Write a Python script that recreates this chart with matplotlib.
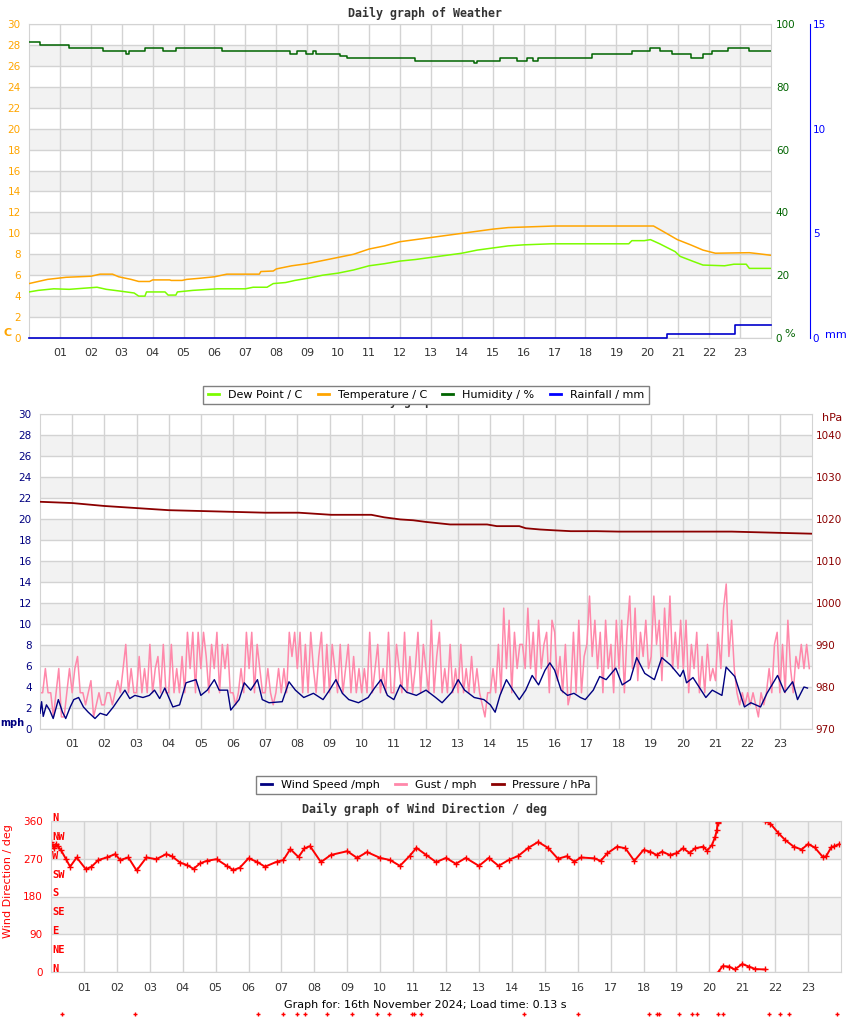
import numpy as np
import matplotlib
matplotlib.use("Agg")
import matplotlib.pyplot as plt
from matplotlib.lines import Line2D
from matplotlib.transforms import ScaledTranslation

# ---- weather panel (hours of day, values) ----
temp_t = [0, 0.3, 0.6, 1.2, 2.0, 2.3, 2.7, 2.9, 3.3, 3.55, 3.9, 4.0, 4.55, 4.6, 4.95, 5.1, 5.5, 6.0, 6.4,
          7.45, 7.5, 7.9, 8.0, 8.5, 9.0, 9.5, 10, 10.5, 11, 11.5, 12, 12.5, 13, 13.5, 14, 14.5, 15, 15.5,
          16, 17, 18, 19, 20.2, 20.5, 20.97, 21.4, 21.8, 22.2, 23.3, 23.6, 24]
temp_c = [5.2, 5.4, 5.6, 5.8, 5.9, 6.1, 6.1, 5.85, 5.6, 5.4, 5.4, 5.55, 5.55, 5.5, 5.5, 5.6, 5.7, 5.85, 6.1,
          6.1, 6.35, 6.4, 6.6, 6.9, 7.1, 7.4, 7.7, 8.0, 8.5, 8.8, 9.2, 9.4, 9.6, 9.8, 10.0, 10.2, 10.4, 10.55,
          10.6, 10.7, 10.7, 10.7, 10.7, 10.2, 9.4, 8.9, 8.4, 8.1, 8.15, 8.05, 7.9]

dew_t = [0, 0.3, 0.8, 1.3, 2.2, 2.5, 2.9, 3.4, 3.55, 3.75, 3.8, 4.4, 4.5, 4.75, 4.8, 5.3, 6.1, 7.0, 7.25,
         7.7, 7.9, 8.3, 8.6, 9, 9.5, 10, 10.5, 11, 11.5, 12, 12.5, 13, 13.5, 14, 14.5, 15, 15.5, 16, 16.9,
         19.4, 19.5, 19.9, 20.1, 20.4, 20.9, 21.06, 21.5, 21.8, 22.5, 22.8, 23.2, 23.3, 24]
dew_c = [4.4, 4.55, 4.7, 4.65, 4.85, 4.65, 4.5, 4.3, 4.0, 4.0, 4.4, 4.4, 4.1, 4.1, 4.4, 4.55, 4.7, 4.7, 4.85,
         4.85, 5.2, 5.3, 5.5, 5.7, 6.0, 6.2, 6.5, 6.9, 7.1, 7.35, 7.5, 7.7, 7.9, 8.1, 8.4, 8.6, 8.8, 8.9, 9.0,
         9.0, 9.3, 9.3, 9.4, 9.0, 8.25, 7.8, 7.3, 6.97, 6.9, 7.05, 7.05, 6.65, 6.65]

hum_t = [0, 0.35, 1.3, 2.4, 3.15, 3.25, 3.75, 4.34, 4.77, 6.23, 8.44, 8.66, 8.96, 9.2, 9.29, 10.06, 10.28,
         12.5, 14.38, 14.49, 15.24, 15.78, 16.1, 16.3, 16.45, 18.2, 19.5, 20.1, 20.4, 20.8, 21.4, 21.8,
         22.1, 22.6, 23.3, 24]
hum_pct = [94.2, 93.3, 92.2, 91.3, 90.4, 91.3, 92.2, 91.3, 92.2, 91.3, 90.4, 91.3, 90.4, 91.3, 90.4, 89.8,
           89.1, 88.2, 87.5, 88.2, 89.1, 88.2, 89.1, 88.2, 89.1, 90.4, 91.3, 92.2, 91.3, 90.4, 89.1, 90.4,
           91.3, 92.2, 91.3, 91.3]

rain_t = [0, 20.65, 22.85, 24]
rain_mm = [0, 0.2, 0.6, 0.6]

# ---- wind panel ----
speed_t = [0.0, 0.05, 0.1, 0.2, 0.3, 0.41, 0.57, 0.7, 0.8, 0.94, 1.05, 1.2, 1.35, 1.5, 1.71, 1.87, 2.07,
           2.28, 2.48, 2.64, 2.79, 2.95, 3.2, 3.4, 3.56, 3.72, 3.88, 4.13, 4.34, 4.54, 4.85, 5.0, 5.2,
           5.42, 5.57, 5.83, 5.93, 6.19, 6.35, 6.55, 6.76, 6.91, 7.12, 7.53, 7.74, 7.94, 8.2, 8.5, 8.8,
           9.0, 9.2, 9.4, 9.6, 9.9, 10.2, 10.4, 10.6, 10.8, 11.0, 11.2, 11.4, 11.7, 12.0, 12.3, 12.5,
           12.8, 13.0, 13.2, 13.5, 13.8, 14.0, 14.15, 14.3, 14.5, 14.7, 14.9, 15.1, 15.3, 15.5, 15.7,
           15.85, 16.0, 16.2, 16.4, 16.6, 16.8, 16.95, 17.2, 17.4, 17.6, 17.9, 18.1, 18.35, 18.55, 18.8,
           19.1, 19.33, 19.6, 19.9, 20.0, 20.1, 20.3, 20.7, 20.9, 21.2, 21.33, 21.6, 21.9, 22.1, 22.4,
           22.6, 22.93, 23.15, 23.4, 23.55, 23.75, 23.86]
speed_mph = [1.5, 2.6, 1.2, 2.3, 1.8, 1.0, 2.8, 1.6, 1.0, 2.1, 2.8, 3.0, 2.1, 1.6, 1.0, 1.5, 1.3,
             2.1, 3.0, 3.7, 2.9, 3.2, 3.0, 3.2, 3.7, 2.9, 3.9, 2.1, 2.3, 4.4, 4.7, 3.2, 3.7,
             4.7, 3.7, 3.7, 1.8, 2.8, 4.4, 3.7, 4.7, 2.8, 2.5, 2.6, 4.5, 3.7, 3.0, 3.4, 2.8,
             3.7, 4.7, 3.4, 2.8, 2.5, 3.0, 3.9, 4.7, 3.2, 2.8, 4.2, 3.5, 3.2, 3.7, 3.0, 2.5,
             3.5, 4.7, 3.7, 3.0, 2.8, 2.3, 1.6, 3.2, 4.7, 3.7, 2.8, 3.7, 5.1, 4.2, 5.6,
             6.3, 5.6, 3.7, 3.2, 3.4, 3.0, 2.8, 3.7, 5.0, 4.7, 5.8, 4.2, 4.7, 6.8, 5.3,
             4.7, 6.8, 6.1, 5.0, 5.6, 4.4, 4.9, 3.0, 3.7, 3.2, 5.9, 5.0, 2.1, 2.5, 2.1,
             3.4, 5.1, 3.5, 4.5, 2.8, 4.0, 3.9]

# gusts every 5 minutes, station reports whole knots
gust_kt = [3, 3, 5, 3, 3, 1, 3, 5, 1, 1, 3, 5,
           3, 5, 6, 3, 3, 2, 3, 4, 1, 2, 3, 2,
           2, 3, 3, 2, 3, 4, 3, 5, 7, 3, 5, 3,
           3, 6, 3, 5, 3, 7, 3, 5, 6, 3, 7, 3,
           3, 7, 3, 5, 3, 6, 3, 8, 5, 8, 3, 8,
           5, 8, 6, 3, 7, 5, 8, 3, 7, 5, 7, 3,
           3, 2, 3, 5, 3, 8, 5, 8, 3, 7, 5, 3,
           3, 5, 3, 2, 3, 5, 3, 5, 3, 8, 6, 8,
           5, 8, 3, 7, 3, 8, 5, 3, 6, 8, 3, 7,
           3, 7, 5, 3, 7, 3, 5, 7, 3, 6, 3, 5,
           3, 5, 3, 8, 3, 5, 7, 3, 5, 3, 8, 3,
           3, 7, 5, 3, 8, 3, 6, 3, 5, 8, 3, 7,
           5, 3, 9, 3, 6, 8, 3, 5, 3, 7, 3, 5,
           3, 7, 3, 5, 3, 6, 3, 5, 3, 2, 1, 3,
           3, 5, 3, 7, 3, 10, 5, 9, 3, 8, 5, 7,
           7, 5, 10, 5, 8, 4, 9, 5, 7, 8, 3, 9,
           8, 4, 6, 3, 7, 2, 3, 8, 3, 9, 3, 6,
           7, 11, 6, 9, 5, 8, 3, 9, 5, 7, 3, 9,
           5, 9, 3, 8, 11, 5, 10, 4, 8, 6, 9, 5,
           6, 11, 7, 9, 4, 10, 6, 11, 5, 8, 5, 9,
           5, 9, 3, 7, 5, 8, 3, 6, 3, 7, 4, 5,
           4, 8, 5, 10, 12, 6, 9, 5, 3, 2, 3, 2,
           3, 2, 3, 2, 1, 3, 2, 3, 5, 3, 7, 8,
           3, 7, 3, 9, 5, 3, 6, 5, 7, 5, 7, 5]

press_t = [0, 1, 2, 3, 4, 5, 6, 7, 8.05, 9.05, 10.3, 10.7, 11.2, 11.6, 12.0, 12.75, 13.9, 14.2, 14.9,
           15.1, 15.55, 16.0, 16.5, 17.3, 18, 20, 21.5, 22, 23, 24]
press_hpa = [1024.1, 1023.8, 1023.1, 1022.6, 1022.1, 1021.9, 1021.7, 1021.5, 1021.5, 1021.0, 1021.0,
             1020.4, 1019.9, 1019.7, 1019.3, 1018.7, 1018.7, 1018.3, 1018.3, 1017.8, 1017.5, 1017.3,
             1017.1, 1017.1, 1017.0, 1017.0, 1017.0, 1016.9, 1016.7, 1016.5]

# ---- wind direction panel (split where the reading wraps round north) ----
dir_a_t = [0.0, 0.05, 0.1, 0.15, 0.2, 0.3, 0.45, 0.58, 0.78, 1.06, 1.23, 1.44, 1.69, 1.95, 2.1, 2.35,
           2.6, 2.9, 3.2, 3.5, 3.67, 3.92, 4.13, 4.33, 4.53, 4.73, 5.03, 5.34, 5.54, 5.74, 6.0, 6.25,
           6.5, 6.86, 7.06, 7.27, 7.52, 7.7, 7.87, 8.2, 8.5, 9.0, 9.3, 9.6, 10.0, 10.3, 10.6, 10.9,
           11.1, 11.4, 11.7, 12.0, 12.3, 12.6, 13.0, 13.3, 13.6, 13.9, 14.2, 14.5, 14.8, 15.1, 15.4,
           15.67, 15.9, 16.1, 16.5, 16.7, 16.9, 17.2, 17.45, 17.72, 18.0, 18.2, 18.4, 18.56, 18.8,
           19.0, 19.2, 19.4, 19.57, 19.82, 19.93, 20.08, 20.18, 20.23, 20.25, 20.27]
dir_a_deg = [310, 300, 295, 305, 300, 291, 270, 251, 273, 245, 251, 267, 273, 281, 267, 273,
             242, 273, 269, 281, 276, 261, 255, 246, 259, 265, 269, 253, 243, 249, 271, 263,
             251, 263, 267, 293, 274, 295, 300, 262, 279, 288, 272, 286, 272, 267, 253, 277,
             296, 279, 262, 272, 258, 272, 253, 272, 253, 267, 277, 296, 310, 296, 270,
             276, 263, 273, 271, 265, 283, 299, 295, 265, 291, 287, 279, 287, 279,
             283, 295, 284, 295, 299, 289, 303, 323, 339, 355, 358]
dir_b_t = [20.28, 20.4, 20.6, 20.77, 21.0, 21.2, 21.4, 21.7]
dir_b_deg = [1, 14, 13, 6, 19, 13, 7, 6]
dir_c_t = [21.7, 21.85, 22.1, 22.3, 22.56, 22.8, 23.0, 23.2, 23.45, 23.55, 23.7, 23.8, 23.95]
dir_c_deg = [359, 354, 331, 315, 299, 292, 305, 297, 274, 276, 297, 300, 305]
calm_t = [0.33, 2.55, 6.29, 7.05, 7.48, 7.72, 8.39, 9.15, 9.91, 10.27, 10.97, 11.03, 11.25, 14.38,
          16.02, 18.18, 18.42, 18.48, 19.09, 19.48, 19.64, 20.27, 20.40, 21.82, 22.16, 22.43, 23.89]
compass = ["N", "NE", "E", "SE", "S", "SW", "W", "NW", "N"]

hour_labels = ["%02d" % h for h in range(1, 24)]

W, H = 850, 1017
fig = plt.figure(figsize=(W / 100, H / 100), dpi=100)
GRID = "#d3d3d3"
BAND = "#f2f2f2"
TXT = "#333333"


def px_axes(left, top, right, bottom):
    return fig.add_axes([left / W, 1 - bottom / H, (right - left) / W, (bottom - top) / H])


def base_style(ax, ymax, ystep, bands, ycol, xpad):
    ax.set_xlim(0, 24)
    ax.set_ylim(0, ymax)
    for lo in bands:
        ax.axhspan(lo, lo + ystep, color=BAND, zorder=0, lw=0)
    ax.set_xticks(range(1, 24))
    ax.set_xticklabels(hour_labels)
    ax.set_yticks(np.arange(0, ymax + 1, ystep))
    ax.grid(True, color=GRID, lw=1, zorder=0.5)
    ax.set_axisbelow(True)
    ax.tick_params(axis="x", length=0, pad=xpad, labelsize=8, labelcolor=TXT)
    ax.tick_params(axis="y", length=0, pad=6, labelsize=7.5, labelcolor=ycol)
    for s in ax.spines.values():
        s.set_color(GRID)


def ftext(x, y, s, **kw):
    fig.text(x / W, 1 - y / H, s, **kw)


# ---------- panel 1 ----------
ax1 = px_axes(29, 24, 771, 338)
base_style(ax1, 30, 2, range(2, 30, 4), "orange", 7)
ax1.plot(temp_t, temp_c, color="orange", lw=1.1, zorder=3)
ax1.plot(dew_t, dew_c, color="#7cfc00", lw=1.1, zorder=3)

ax1h = ax1.twinx()
ax1h.set_ylim(0, 100)
ax1h.set_yticks(range(0, 101, 20))
ax1h.tick_params(axis="y", length=0, pad=3.5, labelsize=7.5, labelcolor="#006400")
for s in ax1h.spines.values():
    s.set_visible(False)
ax1h.step(hum_t, hum_pct, where="post", color="#006400", lw=1.1)

ax1r = ax1.twinx()
ax1r.set_ylim(0, 15)
ax1r.set_yticks([0, 5, 10, 15])
for k, s in ax1r.spines.items():
    s.set_visible(k == "right")
ax1r.spines["right"].set_position(("axes", (810 - 29) / (771 - 29)))
ax1r.spines["right"].set_color("blue")
ax1r.tick_params(axis="y", length=0, pad=2, labelsize=7.5, labelcolor="blue")
ax1r.step(rain_t, rain_mm, where="post", color="#0000cc", lw=1.2, clip_on=False)

mono = dict(family="DejaVu Sans Mono", weight="bold", fontsize=8.4, color=TXT, ha="center", va="center")
ftext(425, 13, "Daily graph of Weather", **mono)
ftext(3, 333, "C", color="orange", weight="bold", fontsize=8, va="center")
ftext(784, 334, "%", color="#006400", fontsize=8, va="center")
ftext(825, 335, "mm", color="blue", fontsize=8, va="center")

leg_kw = dict(loc="center", ncol=4, fontsize=8, handlelength=1.0, handletextpad=0.8, columnspacing=1.4,
              frameon=True, fancybox=False, framealpha=1, edgecolor="#808080", borderpad=0.4)
h1 = [Line2D([], [], color=c, lw=2) for c in ["#7cfc00", "orange", "#006400", "blue"]]
# wind panel title sits behind the first legend, as in the source page
ftext(428, 401, "Daily graph of Wind", zorder=1, **mono)
lg1 = fig.legend(h1, ["Dew Point / C", "Temperature / C", "Humidity / %", "Rainfall / mm"],
                 bbox_to_anchor=(426 / W, 1 - 395 / H), **leg_kw)
lg1.get_frame().set_linewidth(1)
lg1.set_zorder(10)

# ---------- panel 2 ----------
ax2 = px_axes(40, 414, 812, 729)
base_style(ax2, 30, 2, range(2, 30, 4), "#000080", 7.5)
gust_t = np.arange(len(gust_kt)) / 12.0
gust_mph = np.array(gust_kt) * 1.151
ax2.plot(gust_t, gust_mph, color="#ff88aa", lw=1.1, zorder=2)
ax2.plot(speed_t, speed_mph, color="#000080", lw=1.0, zorder=3)

ax2p = ax2.twinx()
ax2p.set_ylim(970, 1045)
ax2p.set_yticks(range(970, 1041, 10))
ax2p.tick_params(axis="y", length=0, pad=2.5, labelsize=7.5, labelcolor="#8b0000")
for s in ax2p.spines.values():
    s.set_visible(False)
ax2p.plot(press_t, press_hpa, color="#8b0000", lw=1.3)

ftext(0, 723, "mph", color="#000080", weight="bold", fontsize=7, va="center")
ftext(822, 418, "hPa", color="#8b0000", fontsize=8, va="center")

h2 = [Line2D([], [], color=c, lw=2) for c in ["#000080", "#ff88aa", "#8b0000"]]
lg2 = fig.legend(h2, ["Wind Speed /mph", "Gust / mph", "Pressure / hPa"],
                 bbox_to_anchor=(426 / W, 1 - 785 / H), **{**leg_kw, "ncol": 3})
lg2.get_frame().set_linewidth(1)

# ---------- panel 3 ----------
ax3 = px_axes(51, 821, 841, 972)
base_style(ax3, 360, 90, [90, 270], "red", 8)
mk = dict(color="red", lw=1.4, marker="+", ms=4, mew=1)
ax3.plot(dir_a_t, dir_a_deg, **mk)
ax3.plot(dir_b_t, dir_b_deg, **mk)
ax3.plot(dir_c_t, dir_c_deg, **mk)
ax3.plot(calm_t, [-100] * len(calm_t), "+", color="red", ms=3, mew=1, clip_on=False)
up = ax3.transData + ScaledTranslation(0, 3 / 100, fig.dpi_scale_trans)
for i, name in enumerate(compass):
    ax3.text(0.03, i * 45, name, transform=up, color="red", family="DejaVu Sans Mono", weight="bold",
             fontsize=7.5, ha="left", va="center", clip_on=False)
ftext(425, 809, "Daily graph of Wind Direction / deg", **mono)
ftext(8, 881, "Wind Direction / deg", color="red", fontsize=8, rotation=90, ha="center", va="center")
ftext(425, 1005, "Graph for: 16th November 2024; Load time: 0.13 s", fontsize=8, color="black",
      ha="center", va="center")

fig.savefig("out.png", dpi=100)
